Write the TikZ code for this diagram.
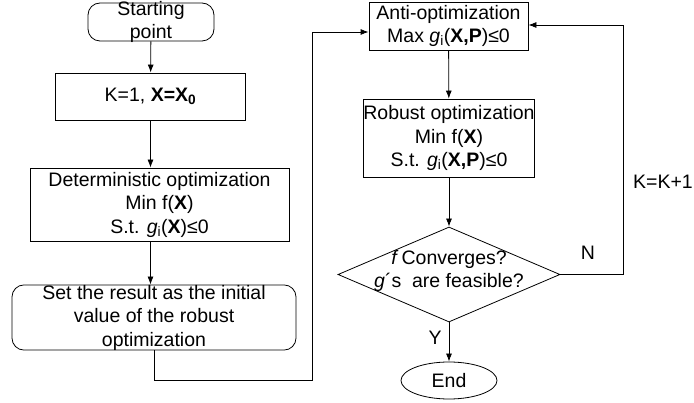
\documentclass[tikz,border=0pt]{standalone}
\usepackage{fontspec}
\setmainfont{Liberation Sans}
\usetikzlibrary{shapes,
				arrows.meta,
				calc}

\begin{document}
\begin{tikzpicture}[x=1pt, y=-1pt, >={Latex[length=8pt,width=6pt]}, line width=0.8pt,
	every node/.style={font=\fontsize{19.5}{23.5}\selectfont, align=center},
	box/.style={draw, rectangle, inner sep=0pt},
	roundbox/.style={draw, rectangle, rounded corners=12pt, inner sep=0pt},
	decision/.style={draw, diamond, inner sep=0pt},
	terminal/.style={draw, ellipse, inner sep=0pt}]

\useasboundingbox (0,0) rectangle (694,403);

\node[roundbox, minimum width=126pt, minimum height=38pt, inner ysep=-2pt] (start) at (151,22) {Starting\\point};
\node[box, minimum width=190pt, minimum height=47pt] (init) at (150.5,96.5) {K=1, \textbf{X=X\textsubscript{0}}};
\node[box, minimum width=259pt, minimum height=73pt] (det) at (159.5,204.5) {Deterministic optimization\\Min f(\textbf{X})\\S.t. \textit{g}\textsubscript{i}(\textbf{X})≤0};
\node[roundbox, minimum width=284pt, minimum height=65pt] (result) at (154,317.5) {Set the result as the initial\\value of the robust\\optimization};

\node[box, minimum width=159pt, minimum height=48pt] (anti) at (448.5,26) {Anti-optimization\\Max \textit{g}\textsubscript{i}(\textbf{X,P})≤0};
\node[box, minimum width=160pt, minimum height=78pt] (robust) at (449,138) {Robust optimization\\Min f(\textbf{X})\\S.t. \textit{g}\textsubscript{i}(\textbf{X,P})≤0};
\node[decision, minimum width=222pt, minimum height=95pt] (check) at (449,274.5) {};
\node (checktext) at (449,271) {\textit{f}\,Converges?\\\textit{g}´s~ are feasible?};
\node[terminal, minimum width=96pt, minimum height=37pt] (end) at (449,380.5) {End};

\node (no) at (588,253) {N};
\node (yes) at (435,338) {Y};
\node (incr) at (663,182) {K=K+1};

\coordinate (turn) at (312,380);
\coordinate (back) at (623,25);

\draw[->] (start) -- (init);
\draw[->] (init.south) -- (init.south |- det.north);
\draw[->] (init.south |- det.south) -- (init.south |- result.north);
\draw[->] (result.south) |- (turn) |- ($(anti.west)+(0,6)$);
\draw[->] (anti) -- (robust);
\draw[->] (robust) -- (check);
\draw[->] (check) -- (end);
\draw[->] (check.east) -| (back) -- (back -| anti.east);

\end{tikzpicture}
\end{document}
